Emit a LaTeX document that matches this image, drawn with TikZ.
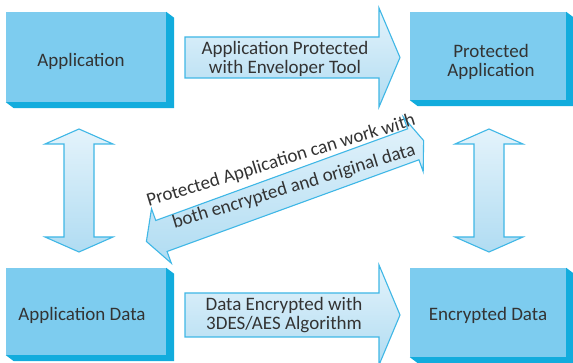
\documentclass[tikz,border=0pt]{standalone}
\usepackage{fontspec}
\setmainfont{Carlito}
\usetikzlibrary{calc}
\definecolor{face}{HTML}{7DCCEF}
\definecolor{sidec}{HTML}{12ACDD}
\definecolor{arrowedge}{HTML}{3FB7E6}
\definecolor{arrowtop}{HTML}{E4F3FB}
\definecolor{arrowbot}{HTML}{B0DCF2}
\definecolor{txt}{HTML}{333333}
\begin{document}
\begin{tikzpicture}[x=1pt,y=-1pt,
  box/.style={fill=face, draw=none, inner sep=0pt},
  sideface/.style={fill=sidec},
  blockarrow/.style={draw=arrowedge, line width=1.1pt, top color=arrowtop, bottom color=arrowbot, line join=miter},
  lbl/.style={text=txt, font=\fontsize{19}{19.5}\selectfont, align=center, inner sep=0pt}]
\useasboundingbox[fill=white] (0,0) rectangle (573,363);

% boxes
\node[box, minimum width=160pt, minimum height=90pt] (A) at (86,57) {};
\node[box, minimum width=156pt, minimum height=88pt] (PA) at (488,56) {};
\node[box, minimum width=160pt, minimum height=87pt] (AD) at (86,311.5) {};
\node[box, minimum width=156pt, minimum height=89pt] (ED) at (488,312.5) {};
\foreach \b in {A,PA,AD,ED}{
  \fill[sideface] (\b.north east) -- ++(8,6) -- ($(\b.south east)+(8,6)$) -- ($(\b.south west)+(8,6)$) -- (\b.south west) -- (\b.south east) -- cycle;
}
\node[lbl] (At) at (81,61) {Application};
\node[lbl] (PAt) at (491,62) {Protected\\Application};
\node[lbl] (ADt) at (82,315) {Application Data};
\node[lbl] (EDt) at (488,315) {Encrypted Data};

% horizontal block arrows
\draw[blockarrow] (185,37) -- (379,37) -- (379,8) -- (400,57.5) -- (379,107) -- (379,78) -- (185,78) -- cycle;
\node[lbl] (T1) at (285,59) {Application Protected\\with Enveloper Tool};
\draw[blockarrow] (185,293) -- (379,293) -- (379,265) -- (400,315) -- (379,365) -- (379,337) -- (185,337) -- cycle;
\node[lbl] (T2) at (284,315) {Data Encrypted with\\3DES/AES Algorithm};

% vertical double arrows
\foreach \cx in {79,489}{
  \draw[blockarrow] (\cx,129) -- (\cx+34,144) -- (\cx+15,144) -- (\cx+15,237) -- (\cx+34,237) -- (\cx,252) -- (\cx-34,237) -- (\cx-15,237) -- (\cx-15,144) -- (\cx-34,144) -- cycle;
}

% diagonal double arrow
\begin{scope}[shift={(285,191)}, rotate=20]
\draw[blockarrow] (147.5,0) -- (136.5,-29) -- (136.5,-16.5) -- (-131.5,-16.5) -- (-131.5,-29) -- (-147.5,0) -- (-131.5,29) -- (-131.5,16.5) -- (136.5,16.5) -- (136.5,29) -- cycle;
\end{scope}
\node[lbl, rotate=17] (D1) at (281,161) {Protected Application can work with};
\node[lbl, rotate=17] (D2) at (294,187) {both encrypted and original data};
\end{tikzpicture}
\end{document}
